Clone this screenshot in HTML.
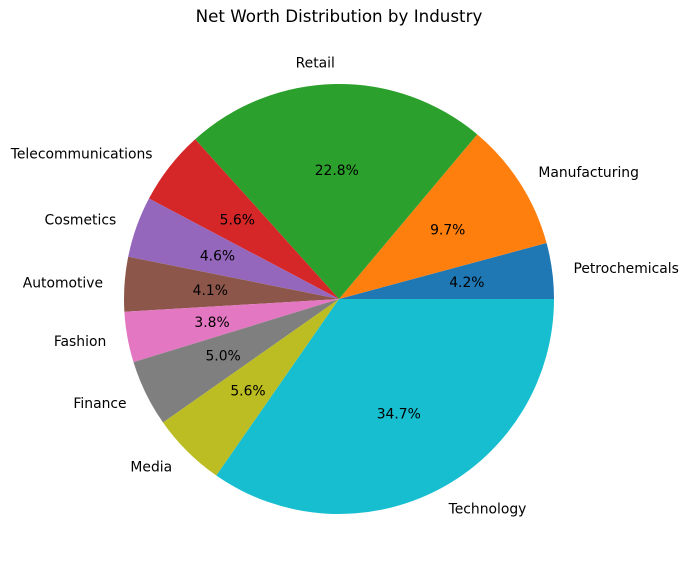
<!DOCTYPE html>
<html><head><meta charset="utf-8"><style>
body{margin:0;background:#fff;}
svg text{font-family:"DejaVu Sans","Liberation Sans",sans-serif;}
</style></head><body>
<svg id="chart" width="689" height="579" viewBox="0 0 689 579">
<text x="339" y="22" text-anchor="middle" font-size="16.7" fill="#000">Net Worth Distribution by Industry</text>
<g id="slices"></g>
</svg>
<script>
const categories = ["Petrochemicals","Manufacturing","Retail","Telecommunications","Cosmetics","Automotive","Fashion","Finance","Media","Technology"];
const values = [4.2,9.7,22.8,5.6,4.6,4.1,3.8,5.0,5.6,34.7];
const colors = ["#1f77b4","#ff7f0e","#2ca02c","#d62728","#9467bd","#8c564b","#e377c2","#7f7f7f","#bcbd22","#17becf"];
const cx=339, cy=299, r=215;
const g=document.getElementById('slices');
const NS="http://www.w3.org/2000/svg";
const total=values.reduce((a,b)=>a+b,0);
let a0=0;
values.forEach((v,i)=>{
  const a1=a0+v/total*2*Math.PI;
  const x0=cx+r*Math.cos(a0), y0=cy-r*Math.sin(a0);
  const x1=cx+r*Math.cos(a1), y1=cy-r*Math.sin(a1);
  const large=(a1-a0)>Math.PI?1:0;
  const p=document.createElementNS(NS,'path');
  p.setAttribute('d',`M${cx},${cy} L${x0},${y0} A${r},${r} 0 ${large} 0 ${x1},${y1} Z`);
  p.setAttribute('fill',colors[i]);
  
  
  g.appendChild(p);
  const am=(a0+a1)/2;
  const lx=cx+1.1*r*Math.cos(am), ly=cy-1.1*r*Math.sin(am);
  const t=document.createElementNS(NS,'text');
  t.setAttribute('x',lx);t.setAttribute('y',ly+5);
  t.setAttribute('font-size','13.9');
  t.setAttribute('text-anchor',Math.cos(am)>=0?'start':'end');
  t.textContent=categories[i];
  
  
  g.appendChild(t);
  const px=cx+0.6*r*Math.cos(am), py=cy-0.6*r*Math.sin(am);
  const pt=document.createElementNS(NS,'text');
  pt.setAttribute('x',px);pt.setAttribute('y',py+5);
  pt.setAttribute('font-size','13.9');
  pt.setAttribute('text-anchor','middle');
  pt.textContent=v.toFixed(1)+'%';
  
  
  g.appendChild(pt);
  a0=a1;
});
</script>
</body></html>
